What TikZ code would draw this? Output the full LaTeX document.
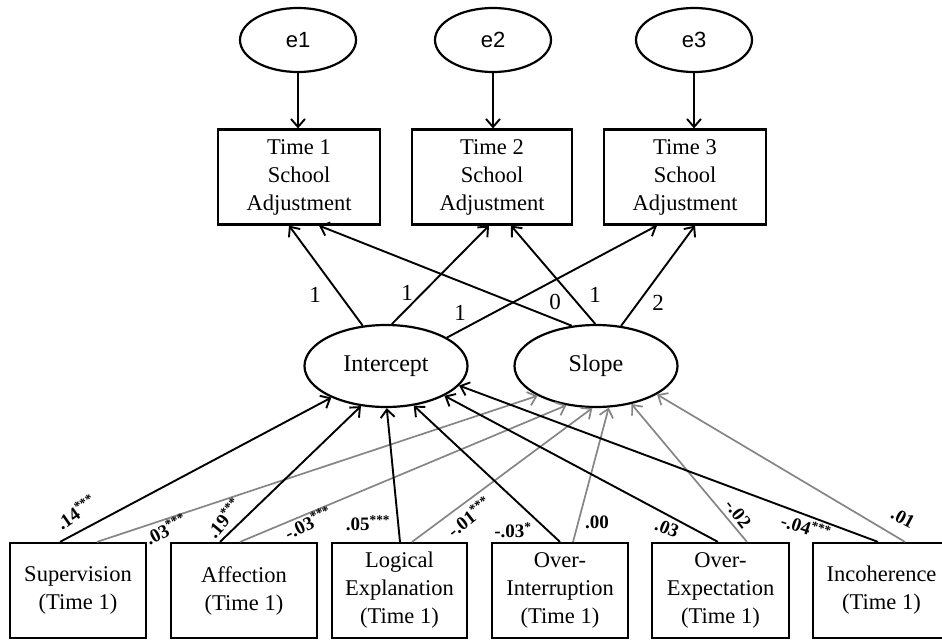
\documentclass[tikz,border=0pt]{standalone}
\usepackage{fontspec}
\setmainfont{Liberation Serif}
\newfontfamily\esans{Liberation Sans}
\usetikzlibrary{arrows.meta,shapes.geometric}
\begin{document}
\begin{tikzpicture}[x=1pt,y=-1pt,
  box/.style={draw,line width=2.2pt,rectangle,inner sep=0pt,minimum height=95pt,align=center,font=\fontsize{22.5}{28}\selectfont},
  lat/.style={draw,ellipse,line width=2.2pt,inner sep=0pt,minimum width=163pt,minimum height=82pt,font=\fontsize{24}{28}\selectfont},
  err/.style={draw,ellipse,line width=2.2pt,inner sep=0pt,minimum width=116pt,minimum height=64pt,font=\esans\fontsize{22}{26}\selectfont},
  arr/.style={line width=1.9pt,-{Straight Barb[length=8pt,width=14pt,line width=1.9pt]}},
  garr/.style={line width=1.7pt,draw=black!48,-{Straight Barb[length=8pt,width=14pt,line width=1.7pt]}},
  coef/.style={font=\bfseries\fontsize{19}{22}\selectfont,inner sep=0pt},
  load/.style={font=\fontsize{23}{26}\selectfont,inner sep=0pt}
]
\path[use as bounding box] (0,0) rectangle (942,640);
\clip (0,0) rectangle (942,640);

% error terms
\node[err] (e1) at (298,40) {e1};
\node[err] (e2) at (493,40) {e2};
\node[err] (e3) at (694,40) {e3};

% outcomes
\node[box,minimum width=162pt] (t1) at (299,177) {Time 1\\School\\Adjustment};
\node[box,minimum width=160pt] (t2) at (492,177) {Time 2\\School\\Adjustment};
\node[box,minimum width=162pt] (t3) at (685,177) {Time 3\\School\\Adjustment};

% latent
\node[lat] (int) at (386,366) {Intercept};
\node[lat] (slo) at (596,366) {Slope};

% predictors
\node[box,minimum width=136pt] (sup) at (78,590.5) {Supervision\\(Time 1)};
\node[box,minimum width=146pt] (aff) at (244,590.5) {Affection\\(Time 1)};
\node[box,minimum width=135pt] (log) at (399.5,590.5) {Logical\\Explanation\\(Time 1)};
\node[box,minimum width=136pt] (oi) at (560,590.5) {Over-\\Interruption\\(Time 1)};
\node[box,minimum width=137pt] (oe) at (720.5,590.5) {Over-\\Expectation\\(Time 1)};
\node[box,minimum width=137pt] (inc) at (881.5,590.5) {Incoherence\\(Time 1)};

% error arrows
\draw[arr] (e1) -- (e1 |- t1.north);
\draw[arr] (e2) -- (e2 |- t2.north);
\draw[arr] (e3) -- (e3 |- t3.north);

% loadings
\draw[arr] (int.120) -- ([xshift=-10pt]t1.south);
\draw[arr] (int.82) -- ([xshift=-3pt]t2.south);
\draw[arr] (int.25) -- ([xshift=-28pt]t3.south);
\draw[arr] (slo.121) -- ([xshift=20pt]t1.south);
\draw[arr] (slo.91) -- ([xshift=19pt]t2.south);
\draw[arr] (slo.58) -- ([xshift=10pt]t3.south);

\node[load] (l1) at (315,295) {1};
\node[load] (l2) at (407,293) {1};
\node[load] (l3) at (460,313) {1};
\node[load] (l4) at (555,302) {0};
\node[load] (l5) at (595,295) {1};
\node[load] (l6) at (658,303) {2};

% predictor paths to slope (gray)
\draw[garr] ([xshift=19pt]sup.north) -- (slo.207);
\draw[garr] ([xshift=-4pt]aff.north) -- (slo.233);
\draw[garr] ([xshift=12.5pt]log.north) -- (slo.265);
\draw[garr] ([xshift=13pt]oi.north) -- (slo.287);
\draw[garr] ([xshift=26.5pt]oe.north) -- (slo.313);
\draw[garr] ([xshift=23.5pt]inc.north) -- (slo.335);

% predictor paths to intercept (black)
\draw[arr] ([xshift=-18pt]sup.north) -- (int.210);
\draw[arr] ([xshift=-24pt]aff.north) -- (int.238);
\draw[arr] ([xshift=0.5pt]log.north) -- (int.271);
\draw[arr] (oi.north) -- (int.305);
\draw[arr] ([xshift=-2.5pt]oe.north) -- (int.333);
\draw[arr] ([xshift=-3.5pt]inc.north) -- (int.345);

% coefficients
\node[coef,rotate=35] (c1) at (76,512) {.14\textsuperscript{***}};
\node[coef,rotate=27] (c2) at (166,529) {.03\textsuperscript{***}};
\node[coef,rotate=50] (c3) at (224,518) {.19\textsuperscript{***}};
\node[coef,rotate=26] (c4) at (308,523) {-.03\textsuperscript{***}};
\node[coef] (c5) at (368,523) {.05\textsuperscript{***}};
\node[coef,rotate=38] (c6) at (469,517) {-.01\textsuperscript{***}};
\node[coef] (c7) at (513,530) {-.03\textsuperscript{*}};
\node[coef] (c8) at (597,522) {.00};
\node[coef,rotate=-22] (c9) at (667,528) {.03};
\node[coef,rotate=-52] (c10) at (738,514) {-.02};
\node[coef,rotate=-18] (c11) at (806,527) {-.04\textsuperscript{***}};
\node[coef,rotate=-28] (c12) at (903,518) {.01};
\end{tikzpicture}
\end{document}
